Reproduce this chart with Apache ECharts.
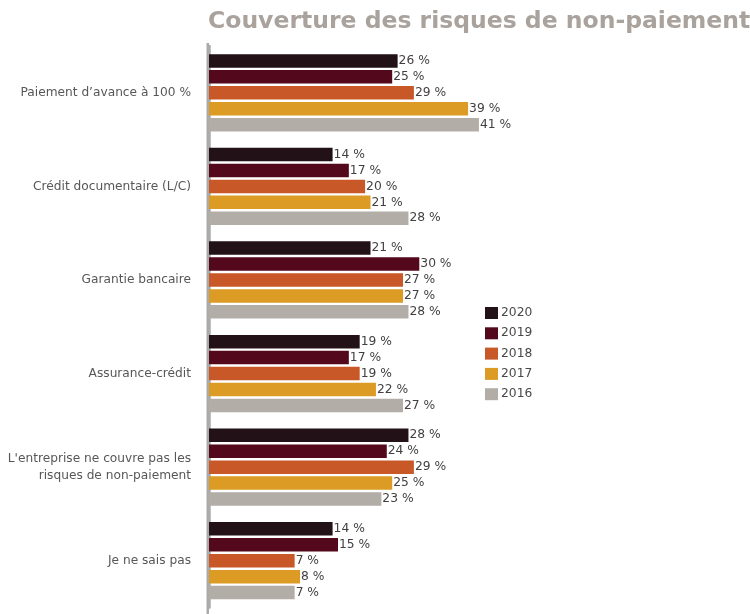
<!DOCTYPE html>
<html>
<head>
<meta charset="utf-8">
<script src="https://cdn.jsdelivr.net/npm/echarts@6/dist/echarts.min.js"></script>
<style>
  html, body { margin: 0; padding: 0; background: #ffffff; }
  #chart { width: 750px; height: 614px; }
</style>
</head>
<body>
<div id="chart"></div>
<script>
// Couverture des risques de non-paiement, par année
const categories = [
  'Paiement d\u2019avance à 100 %',
  'Crédit documentaire (L/C)',
  'Garantie bancaire',
  'Assurance-crédit',
  'L\'entreprise ne couvre pas les\nrisques de non-paiement',
  'Je ne sais pas'
];
const years = ['2020', '2019', '2018', '2017', '2016'];
const values2020 = [26, 14, 21, 19, 28, 14];
const values2019 = [25, 17, 30, 17, 24, 15];
const values2018 = [29, 20, 27, 19, 29, 7];
const values2017 = [39, 21, 27, 22, 25, 8];
const values2016 = [41, 28, 28, 27, 23, 7];

const seriesValues = [values2020, values2019, values2018, values2017, values2016];
const colors = ['#221116', '#53091b', '#c95829', '#db9b25', '#b3ada7'];

const FONT = '"DejaVu Sans", sans-serif';
const axisMin = -8.8;

const chart = echarts.init(document.getElementById('chart'), null, { renderer: 'canvas' });

const series = years.map((y, i) => ({
  name: y,
  type: 'bar',
  data: seriesValues[i],
  barWidth: 13.5,
  barGap: '18%',
  itemStyle: { color: colors[i] },
  label: {
    show: true,
    position: 'right',
    distance: 1,
    formatter: p => p.value + ' %',
    color: '#433f40',
    fontFamily: FONT,
    fontSize: 12.3
  },
  emphasis: { disabled: true }
}));

chart.setOption({
  animation: false,
  color: colors,
  title: {
    text: 'Couverture des risques de non-paiement',
    left: 203,
    top: 5,
    textStyle: {
      fontFamily: '"DejaVu Sans", sans-serif',
      fontWeight: 'bold',
      fontSize: 23.5,
      color: '#aaa29c'
    }
  },
  legend: {
    data: years,
    orient: 'vertical',
    left: 480,
    top: 302,
    itemWidth: 13,
    itemHeight: 12,
    itemGap: 8.3,
    icon: 'rect',
    textStyle: { fontFamily: FONT, fontSize: 12.3, color: '#484848', padding: [0, 0, 0, -2] }
  },
  grid: { left: 209, right: 225, top: 46, bottom: 6.5, containLabel: false },
  xAxis: {
    type: 'value',
    min: axisMin,
    max: 49.5,
    startValue: axisMin,
    show: false
  },
  yAxis: {
    type: 'category',
    data: categories,
    inverse: true,
    axisLine: { show: true, onZero: false, lineStyle: { color: '#ababab', width: 2.5 } },
    axisTick: { show: false },
    axisLabel: {
      margin: 18,
      fontFamily: FONT,
      fontSize: 12.2,
      lineHeight: 17,
      color: '#575757',
      align: 'right'
    }
  },
  graphic: [
    {
      type: 'line',
      shape: { x1: 207.75, y1: 43, x2: 207.75, y2: 614 },
      style: { stroke: '#ababab', lineWidth: 2.5 },
      silent: true
    }
  ],
  series: series
});
</script>
</body>
</html>
